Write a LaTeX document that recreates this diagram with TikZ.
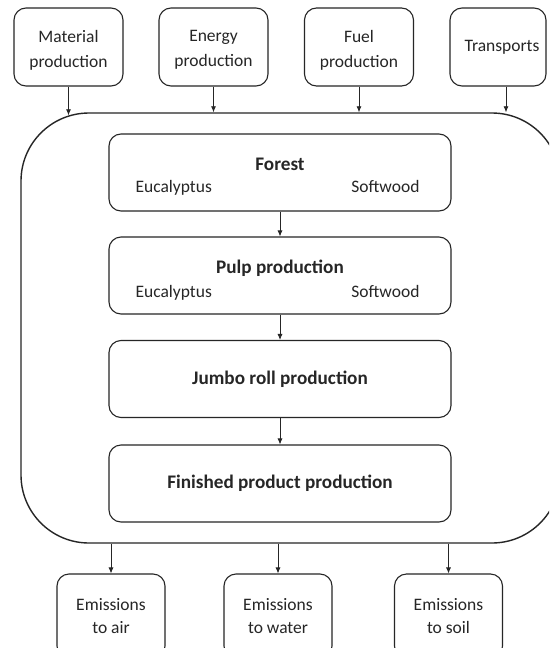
\documentclass[tikz,border=0pt]{standalone}
\usepackage{fontspec}
\setmainfont{Carlito}
\usetikzlibrary{arrows.meta}
\definecolor{ink}{HTML}{262626}
\tikzset{
  reg/.style={font=\fontsize{17.5}{23}\selectfont, text=ink},
  regtop/.style={font=\fontsize{17.5}{25}\selectfont, text=ink, align=center},
  bld/.style={font=\fontsize{19.2}{23}\selectfont\bfseries, text=ink},
  smallbox/.style={draw=ink, line width=1.1pt, rounded corners=12pt, align=center, inner sep=0pt, reg},
  stagebox/.style={draw=ink, line width=1.1pt, rounded corners=12pt, minimum width=342pt, minimum height=77pt, inner sep=0pt, bld},
  arr/.style={draw=ink, line width=0.8pt, -{Latex[length=6pt,width=5pt]}}
}
\begin{document}
\begin{tikzpicture}[x=1pt,y=-1pt]
\clip (0,0) rectangle (549,648);
\fill[white] (0,0) rectangle (549,648);
% top boxes
\node[smallbox, minimum width=109pt, minimum height=78pt] (mat) at (68.5,47) {};
\node[regtop] (matt) at (68.5,50) {Material\\production};
\node[smallbox, minimum width=109pt, minimum height=78pt] (ene) at (213.5,47) {};
\node[regtop] (enet) at (213.5,50) {Energy\\production};
\node[smallbox, minimum width=109pt, minimum height=78pt] (fue) at (359,47) {};
\node[regtop] (fuet) at (359,50) {Fuel\\production};
\node[smallbox, minimum width=96pt, minimum height=78pt] (tra) at (498,47) {};
\node[regtop] (trat) at (502,47) {Transports};
% main system box
\node[draw=ink, line width=1.4pt, rounded corners=68pt, minimum width=539pt, minimum height=430pt, inner sep=0pt] (main) at (290.5,328) {};
% stages
\node[stagebox] (forest) at (280,172.5) {};
\node[bld, anchor=base] (forestt) at (280,170) {Forest};
\node[reg, anchor=base west] (forestl) at (132,192) {Eucalyptus};
\node[reg, anchor=base east] (forestr) at (423,192) {Softwood};
\node[stagebox] (pulp) at (280,275.5) {};
\node[bld, anchor=base] (pulpt) at (280,273) {Pulp production};
\node[reg, anchor=base west] (pulpl) at (132,297) {Eucalyptus};
\node[reg, anchor=base east] (pulpr) at (423,297) {Softwood};
\node[stagebox] (jumbo) at (280,379) {Jumbo roll production};
\node[stagebox] (fin) at (280,483.5) {Finished product production};
% bottom boxes
\node[smallbox, minimum width=108pt, minimum height=84pt] (air) at (111,616) {Emissions\\to air};
\node[smallbox, minimum width=108pt, minimum height=84pt] (wat) at (278,616) {Emissions\\to water};
\node[smallbox, minimum width=108pt, minimum height=84pt] (soi) at (448.5,616) {Emissions\\to soil};
% arrows in
\draw[arr, shorten >=-3pt] (mat.south) -- (mat.south |- main.north);
\draw[arr] (ene.south) -- (ene.south |- main.north);
\draw[arr] (fue.south) -- (fue.south |- main.north);
\draw[arr] ([xshift=8pt]tra.south) -- ([xshift=8pt]tra.south |- main.north);
% chain
\draw[arr] (forest.south) -- (pulp.north);
\draw[arr] (pulp.south) -- (jumbo.north);
\draw[arr] (jumbo.south) -- (fin.north);
% arrows out
\draw[arr] (air.north |- main.south) -- (air.north);
\draw[arr] (wat.north |- main.south) -- (wat.north);
\draw[arr] (soi.north |- main.south) -- (soi.north);
\end{tikzpicture}
\end{document}
